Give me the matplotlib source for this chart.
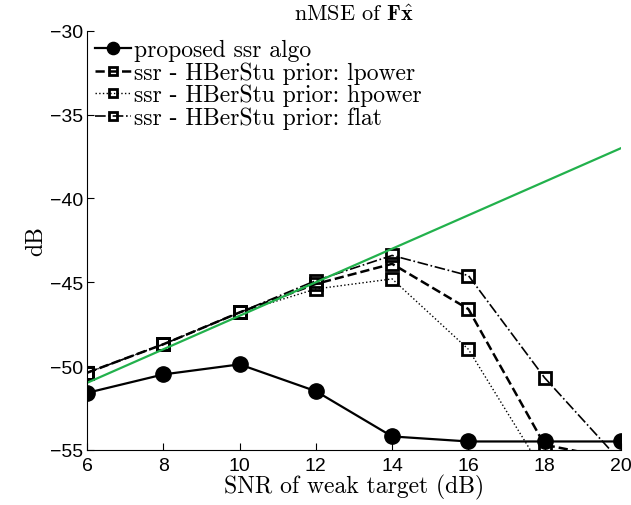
import numpy as np
import matplotlib
matplotlib.use('Agg')
import matplotlib.pyplot as plt

plt.rcParams['mathtext.fontset'] = 'cm'
plt.rcParams['axes.unicode_minus'] = True

# values
snr = [6, 8, 10, 12, 14, 16, 18, 20]
proposed = [-51.6, -50.5, -49.9, -51.5, -54.2, -54.5, -54.5, -54.5]
lpower = [-50.4, -48.7, -46.8, -45.1, -43.9, -46.6, -54.7, -55.6]
hpower = [-50.4, -48.7, -46.8, -45.4, -44.8, -49.0, -56.4, -57.0]
flat = [-50.4, -48.7, -46.8, -44.9, -43.4, -44.6, -50.7, -55.7]
bound_x = [6, 20]
bound_y = [-51.0, -37.0]

labels = ['proposed ssr algo',
          'ssr - HBerStu prior: lpower',
          'ssr - HBerStu prior: hpower',
          'ssr - HBerStu prior: flat']

fig = plt.figure(figsize=(6.31, 5.06), dpi=100)
ax = fig.add_axes([0.138, 0.109, 0.846, 0.828])

ax.plot(snr, proposed, '-o', color='black', lw=1.6, ms=11, label=labels[0])
ax.plot(snr, lpower, '--s', color='black', lw=1.8, ms=8, mew=2,
        mfc='none', label=labels[1])
ax.plot(snr, hpower, ':s', color='black', lw=1.0, ms=8, mew=2,
        mfc='none', label=labels[2])
ax.plot(snr, flat, '-.s', color='black', lw=1.2, ms=8, mew=2,
        mfc='none', label=labels[3])
ax.plot(bound_x, bound_y, '-', color='#22b14c', lw=1.6)

ax.set_xlim(6, 20)
ax.set_ylim(-55, -30)
ax.set_xticks(range(6, 21, 2))
ax.set_yticks(range(-55, -29, 5))
ax.tick_params(direction='in', labelsize=14, length=5)
ax.tick_params(axis='x', pad=5)
ax.tick_params(axis='y', pad=3)
for t in ax.get_xticklabels() + ax.get_yticklabels():
  t.set_fontfamily('Liberation Sans')
ax.spines['top'].set_visible(False)
ax.spines['right'].set_visible(False)

ax.set_title(r'nMSE of $\mathbf{F}\hat{\mathbf{x}}$', fontfamily='cmr10',
             fontsize=16, pad=8)
ax.set_xlabel('SNR of weak target (dB)', fontfamily='cmr10', fontsize=17,
              labelpad=0)
ax.set_ylabel('dB', fontfamily='cmr10', fontsize=17, labelpad=2)

leg = ax.legend(loc='upper left', bbox_to_anchor=(0.0, 1.0), frameon=False,
                prop={'family': 'cmr10', 'size': 17}, handlelength=1.5,
                handletextpad=0.15, labelspacing=0.0, borderpad=0.05,
                borderaxespad=0.3, markerscale=0.8)

fig.savefig('out.png', dpi=100)
